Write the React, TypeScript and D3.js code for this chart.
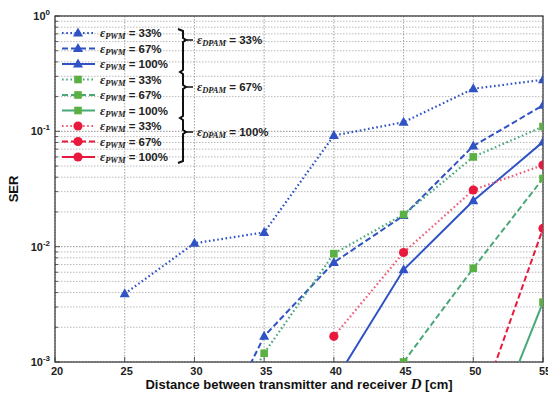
import { useEffect, useRef } from 'react';
import * as d3 from 'd3';

// distance D [cm] at which SER was measured
const distances = [25, 30, 35, 40, 45, 50, 55];
const xTicks = [20, 25, 30, 35, 40, 45, 50, 55];
const yDecades = [1e-3, 1e-2, 1e-1, 1];

// SER per (DPAM, PWM) combination, null = not measured / off chart
const blueDotted = [0.0039, 0.0107, 0.0133, 0.092, 0.12, 0.234, 0.28];
const blueDashed = [null, 0.0001, 0.00167, 0.0073, 0.0186, 0.0746, 0.168];
const blueSolid = [null, null, null, 0.00066, 0.0063, 0.025, 0.081];
const greenDotted = [null, 0.0001, 0.00119, 0.0087, 0.019, 0.06, 0.11];
const greenDashed = [null, null, null, 0.0001, 0.001, 0.0065, 0.039];
const greenSolid = [null, null, null, null, null, 0.0001, 0.0033];
const redDotted = [null, null, null, 0.00167, 0.0089, 0.031, 0.051];
const redDashed = [null, null, null, null, null, 0.00028, 0.0144];
const redSolid: (number | null)[] = [null, null, null, null, null, null, null];

const pwmLabels = ['33%', '67%', '100%'];
const dpamLabels = ['33%', '67%', '100%'];

type Series = { values: (number | null)[]; line: string; fill: string; marker: 'tri' | 'sq' | 'dot'; dash: string };

const BLUE = '#2f52c4';
const GREEN_LINE = '#4aa878';
const GREEN = '#5ab043';
const RED = '#e8193c';
const DOT = '1.6,2.6';
const DASH = '6,3';

const series: Series[] = [
  { values: blueDotted, line: BLUE, fill: BLUE, marker: 'tri', dash: DOT },
  { values: blueDashed, line: BLUE, fill: BLUE, marker: 'tri', dash: DASH },
  { values: blueSolid, line: BLUE, fill: BLUE, marker: 'tri', dash: '' },
  { values: greenDotted, line: GREEN_LINE, fill: GREEN, marker: 'sq', dash: DOT },
  { values: greenDashed, line: GREEN_LINE, fill: GREEN, marker: 'sq', dash: DASH },
  { values: greenSolid, line: GREEN_LINE, fill: GREEN, marker: 'sq', dash: '' },
  { values: redDotted, line: '#ee5a78', fill: RED, marker: 'dot', dash: DOT },
  { values: redDashed, line: RED, fill: RED, marker: 'dot', dash: DASH },
  { values: redSolid, line: RED, fill: RED, marker: 'dot', dash: '' },
];

export default function App() {
  const svgRef = useRef<SVGSVGElement>(null);

  useEffect(() => {
    document.body.style.margin = '0';
    if (!svgRef.current) return;
    const svg = d3.select(svgRef.current);
    svg.selectAll('*').remove();

    const left = 55, right = 543, top = 16, bottom = 362;
    const x = d3.scaleLinear().domain([20, 55]).range([left, right]);
    const y = d3.scaleLog().domain([1e-3, 1]).range([bottom, top]);

    svg.append('rect').attr('width', 548).attr('height', 396).attr('fill', '#fff');

    svg.append('defs').append('clipPath').attr('id', 'plot')
      .append('rect').attr('x', left).attr('y', top).attr('width', right - left).attr('height', bottom - top);

    // grid
    const grid = svg.append('g').attr('fill', 'none');
    const minor: number[] = [];
    yDecades.slice(0, -1).forEach(d => { for (let k = 2; k <= 9; k++) minor.push(d * k); });
    grid.selectAll('.hminor').data(minor).enter().append('line')
      .attr('x1', left).attr('x2', right).attr('y1', d => y(d)).attr('y2', d => y(d))
      .attr('stroke', '#a8a8a8').attr('stroke-width', 0.8).attr('stroke-dasharray', '1.5,1.5');
    grid.selectAll('.hmajor').data(yDecades).enter().append('line')
      .attr('x1', left).attr('x2', right).attr('y1', d => y(d)).attr('y2', d => y(d))
      .attr('stroke', '#888').attr('stroke-width', 0.9).attr('stroke-dasharray', '1.5,1.5');
    grid.selectAll('.vmajor').data(xTicks).enter().append('line')
      .attr('x1', d => x(d)).attr('x2', d => x(d)).attr('y1', top).attr('y2', bottom)
      .attr('stroke', '#999').attr('stroke-width', 0.9).attr('stroke-dasharray', '1.5,1.5');

    // axes box and ticks
    const ax = svg.append('g').attr('stroke', '#333').attr('fill', 'none');
    ax.append('rect').attr('x', left).attr('y', top).attr('width', right - left).attr('height', bottom - top)
      .attr('stroke-width', 1.2);
    ax.selectAll('.ytk').data(minor.concat(yDecades)).enter().append('line')
      .attr('x1', left).attr('x2', d => left + (yDecades.includes(d) ? 5 : 3))
      .attr('y1', d => y(d)).attr('y2', d => y(d)).attr('stroke-width', 0.8);
    ax.selectAll('.xtk').data(xTicks).enter().append('line')
      .attr('x1', d => x(d)).attr('x2', d => x(d)).attr('y1', bottom).attr('y2', bottom - 5).attr('stroke-width', 0.8);

    const font = 'Liberation Sans, Arial, sans-serif';
    // y tick labels
    const yl = svg.append('g').attr('font-family', font).attr('fill', '#222').attr('font-weight', 'bold');
    yDecades.forEach(d => {
      const t = yl.append('text').attr('x', left - 5).attr('y', y(d) + 4).attr('text-anchor', 'end').attr('font-size', 11);
      t.append('tspan').text('10');
      t.append('tspan').attr('dy', -5).attr('font-size', 8).text(String(Math.round(Math.log10(d))));
    });
    // x tick labels
    svg.append('g').attr('font-family', font).attr('fill', '#222').attr('font-weight', 'bold')
      .selectAll('text').data(xTicks).enter().append('text')
      .attr('x', d => x(d) + 2).attr('y', bottom + 13).attr('text-anchor', 'middle').attr('font-size', 11)
      .text(d => d);

    // axis titles
    const xt = svg.append('text').attr('x', (left + right) / 2).attr('y', 389).attr('text-anchor', 'middle')
      .attr('font-family', font).attr('font-size', 13).attr('font-weight', 'bold').attr('fill', '#111');
    xt.append('tspan').text('Distance between transmitter and receiver ');
    xt.append('tspan').attr('font-style', 'italic').attr('font-family', 'Liberation Serif, serif').attr('font-size', 15).text('D');
    xt.append('tspan').text(' [cm]');
    svg.append('text').attr('transform', `translate(18,${(top + bottom) / 2}) rotate(-90)`).attr('text-anchor', 'middle')
      .attr('font-family', font).attr('font-size', 13).attr('font-weight', 'bold').attr('fill', '#111').text('SER');

    const drawMarker = (g: d3.Selection<SVGGElement, unknown, null, undefined>, s: Series, cx: number, cy: number) => {
      if (s.marker === 'tri') {
        g.append('path').attr('d', `M${cx},${cy - 5.5}L${cx + 5},${cy + 3.5}L${cx - 5},${cy + 3.5}Z`).attr('fill', s.fill);
      } else if (s.marker === 'sq') {
        g.append('rect').attr('x', cx - 3.8).attr('y', cy - 3.8).attr('width', 7.6).attr('height', 7.6).attr('fill', s.fill);
      } else {
        g.append('circle').attr('cx', cx).attr('cy', cy).attr('r', 4.6).attr('fill', s.fill);
      }
    };

    // data lines
    const plot = svg.append('g').attr('clip-path', 'url(#plot)');
    const line = d3.line<[number, number | null]>()
      .defined(d => d[1] !== null)
      .x(d => x(d[0]))
      .y(d => y(d[1] as number));
    series.forEach(s => {
      const pts = distances.map((d, i) => [d, s.values[i]] as [number, number | null]);
      plot.append('path').datum(pts).attr('d', line).attr('fill', 'none')
        .attr('stroke', s.line).attr('stroke-width', s.dash === DOT ? 2.2 : 2)
        .attr('stroke-dasharray', s.dash || null);
      const mg = plot.append('g');
      pts.filter(p => p[1] !== null).forEach(p => drawMarker(mg, s, x(p[0]), y(p[1] as number)));
    });

    // legend
    const lg = svg.append('g');
    const rowY = (i: number) => 33 + i * 15.5;
    series.forEach((s, i) => {
      const yy = rowY(i);
      lg.append('line').attr('x1', 62).attr('x2', 95).attr('y1', yy).attr('y2', yy)
        .attr('stroke', s.line).attr('stroke-width', 2).attr('stroke-dasharray', s.dash || null);
      const mg = lg.append('g');
      drawMarker(mg, s, 78, yy);
      const t = lg.append('text').attr('x', 100).attr('y', yy + 4).attr('font-family', 'Liberation Serif, serif')
        .attr('font-size', 12.5).attr('font-weight', 'bold').attr('fill', '#222');
      t.append('tspan').attr('font-style', 'italic').text('ε');
      t.append('tspan').attr('font-style', 'italic').attr('font-size', 8.5).attr('dy', 2).text('PWM');
      t.append('tspan').attr('dy', -2).attr('font-family', font).attr('font-size', 11.5).text(' = ' + pwmLabels[i % 3]);
    });

    // braces grouping DPAM levels
    const bx = 183;
    const bTop = 29, k1 = 72, k2 = 118, bBot = 163;
    const tips = [40, 87, 132];
    const bp = d3.path();
    bp.moveTo(bx - 5, bTop); bp.lineTo(bx, bTop + 2); bp.lineTo(bx, tips[0] - 2); bp.lineTo(bx + 3, tips[0]);
    bp.lineTo(bx, tips[0] + 2); bp.lineTo(bx, k1 - 2); bp.lineTo(bx - 3, k1); bp.lineTo(bx, k1 + 2);
    bp.lineTo(bx, tips[1] - 2); bp.lineTo(bx + 3, tips[1]); bp.lineTo(bx, tips[1] + 2);
    bp.lineTo(bx, k2 - 2); bp.lineTo(bx - 3, k2); bp.lineTo(bx, k2 + 2);
    bp.lineTo(bx, tips[2] - 2); bp.lineTo(bx + 3, tips[2]); bp.lineTo(bx, tips[2] + 2);
    bp.lineTo(bx, bBot - 2); bp.lineTo(bx - 5, bBot);
    lg.append('path').attr('d', bp.toString()).attr('fill', 'none').attr('stroke', '#111').attr('stroke-width', 2);
    tips.forEach((ty, i) => {
      lg.append('line').attr('x1', bx + 3).attr('x2', bx + 10).attr('y1', ty).attr('y2', ty).attr('stroke', '#111').attr('stroke-width', 1.5);
      const t = lg.append('text').attr('x', bx + 14).attr('y', ty + 4).attr('font-family', 'Liberation Serif, serif')
        .attr('font-size', 12.5).attr('font-weight', 'bold').attr('fill', '#222');
      t.append('tspan').attr('font-style', 'italic').text('ε');
      t.append('tspan').attr('font-style', 'italic').attr('font-size', 8.5).attr('dy', 2).text('DPAM');
      t.append('tspan').attr('dy', -2).attr('font-family', font).attr('font-size', 11.5).text(' = ' + dpamLabels[i]);
    });
  }, []);

  return <svg ref={svgRef} width={548} height={396} style={{ display: 'block' }} />;
}
